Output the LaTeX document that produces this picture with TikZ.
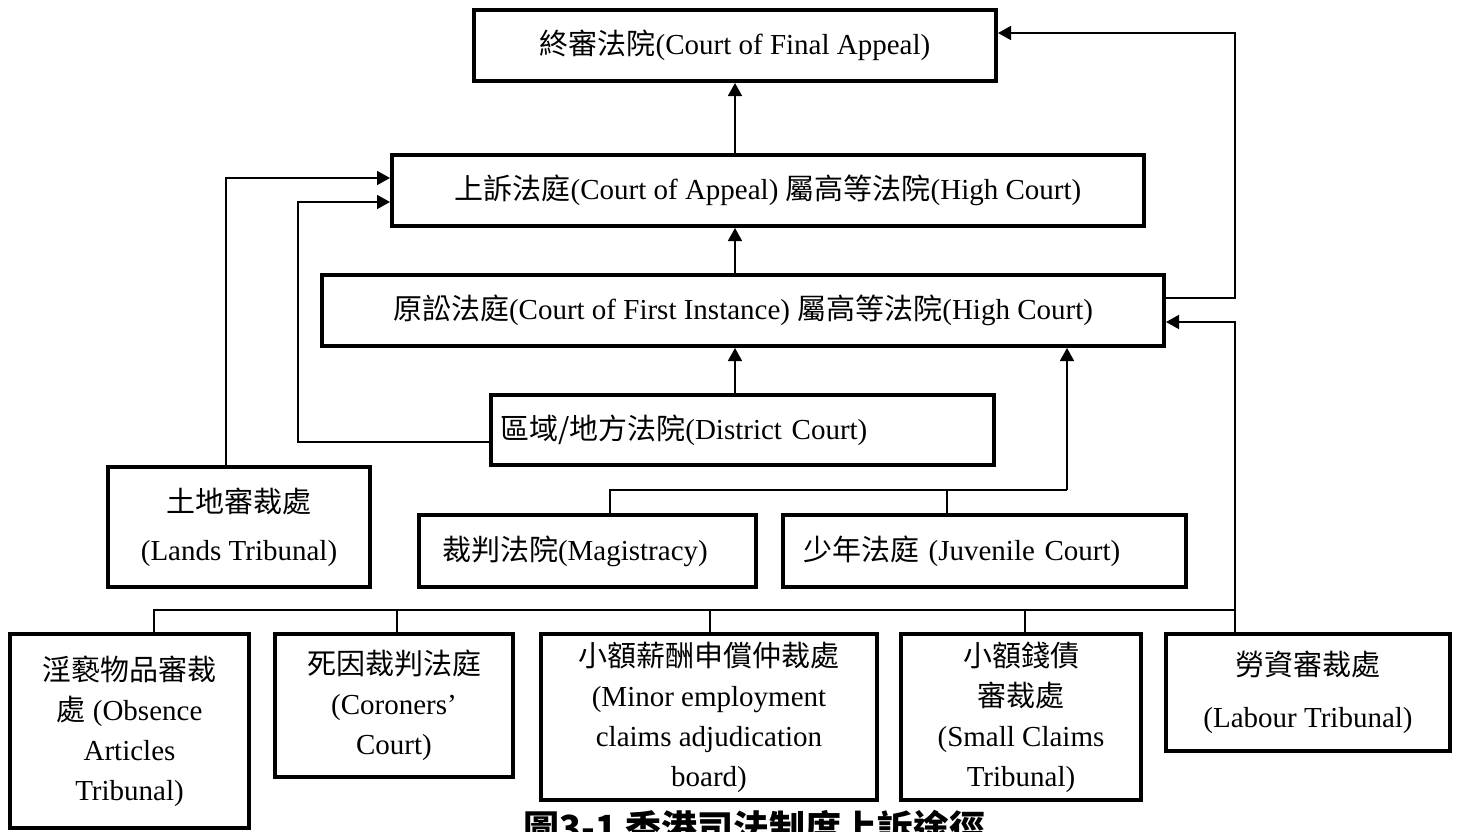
\documentclass[tikz,border=0pt]{standalone}
\usepackage{fontspec}
\setmainfont{Liberation Serif}
\newfontfamily\cjk{Noto Sans CJK TC}
\usetikzlibrary{arrows.meta}
\newcommand{\zh}[1]{{\cjk #1}}
\begin{document}
\begin{tikzpicture}[x=0.5pt,y=-0.5pt,
  box/.style={draw, line width=2pt, inner sep=0pt, align=center,
    font=\fontsize{14.5}{20}\selectfont},
  conn/.style={line width=0.8pt},
  arr/.style={conn, -{Triangle[length=6.5pt,width=7pt]}}]
\useasboundingbox (0,0) rectangle (1458,831);
\clip (0,0) rectangle (1458,831);

% upper courts
\node[box, minimum width=261pt, minimum height=35.5pt] (cfa) at (735,45.5)
  {\zh{終審法院}(Court of Final Appeal)};
\node[box, minimum width=376pt, minimum height=35.5pt] (coa) at (768,190.5)
  {\zh{上訴法庭}(Court of Appeal) \zh{屬高等法院}(High Court)};
\node[box, minimum width=421pt, minimum height=35.5pt] (cfi) at (743,310.5)
  {\zh{原訟法庭}(Court of First Instance) \zh{屬高等法院}(High Court)};
\node[box, minimum width=251.5pt, minimum height=35pt, text width=242.5pt,
  align=left, inner xsep=4.5pt] (dc) at (742.5,430)
  {\zh{區域/地方法院}(District Court)};
\node[box, minimum width=131pt, minimum height=60pt] (lands) at (239,527)
  {\zh{土地審裁處}\\[4pt](Lands Tribunal)};
\node[box, minimum width=168.5pt, minimum height=36pt, text width=145.5pt,
  align=left, inner xsep=11.5pt] (mag) at (587.5,551)
  {\zh{裁判法院}(Magistracy)};
\node[box, minimum width=201.5pt, minimum height=36pt, text width=181.5pt,
  align=left, inner xsep=10pt] (juv) at (984.5,551)
  {\zh{少年法庭} (Juvenile Court)};

% tribunals
\node[box, minimum width=119.5pt, minimum height=97pt] (obs) at (129.5,731)
  {\zh{淫褻物品審裁}\\\zh{處} (Obsence\\Articles\\Tribunal)};
\node[box, minimum width=119pt, minimum height=71.5pt] (cor) at (394,705.5)
  {\zh{死因裁判法庭}\\(Coroners’\\Court)};
\node[box, minimum width=168pt, minimum height=83pt] (minor) at (709,717)
  {\zh{小額薪酬申償仲裁處}\\(Minor employment\\claims adjudication\\board)};
\node[box, minimum width=120pt, minimum height=83pt] (small) at (1021,717)
  {\zh{小額錢債}\\\zh{審裁處}\\(Small Claims\\Tribunal)};
\node[box, minimum width=142pt, minimum height=58.5pt] (lab) at (1308,692.5)
  {\zh{勞資審裁處}\\[6pt](Labour Tribunal)};

% vertical appeals in the centre
\draw[arr] (coa.north -| cfa.south) -- (cfa.south);
\draw[arr] (cfi.north -| cfa.south) -- (coa.south -| cfa.south);
\draw[arr] (dc.north -| cfa.south) -- (cfi.south -| cfa.south);

% district court and lands tribunal to court of appeal
\draw[arr] (dc.west |- 0,442) -| (298,202) -- (coa.west |- 0,202);
\draw[arr] (lands.north -| 226,0) |- (coa.west |- 0,178);

% magistracy and juvenile court to CFI
\coordinate (mj) at (1067,490);
\draw[conn] (mag.north -| 610,0) |- (mj);
\draw[conn] (juv.north -| 947,0) -- (947,490);
\draw[arr] (mj) -- (cfi.south -| mj);

% CFI to CFA
\draw[arr] (cfi.east |- 0,298) -| (1235,33) -- (cfa.east |- 0,33);

% tribunals bus to CFI
\coordinate (bus) at (1235,610);
\draw[conn] (obs.north -| 154,0) |- (bus);
\draw[conn] (cor.north -| 397,0) -- (397,610);
\draw[conn] (minor.north -| 710,0) -- (710,610);
\draw[conn] (small.north -| 1025,0) -- (1025,610);
\draw[conn] (lab.north -| bus) -- (bus);
\draw[arr] (bus) |- (cfi.east |- 0,322);

% caption
\node[anchor=base west, inner sep=0pt, font=\fontsize{18}{20}\selectfont\cjk\bfseries] (cap) at (523,841)
  {圖3-1 香港司法制度上訴途徑};
\end{tikzpicture}
\end{document}
